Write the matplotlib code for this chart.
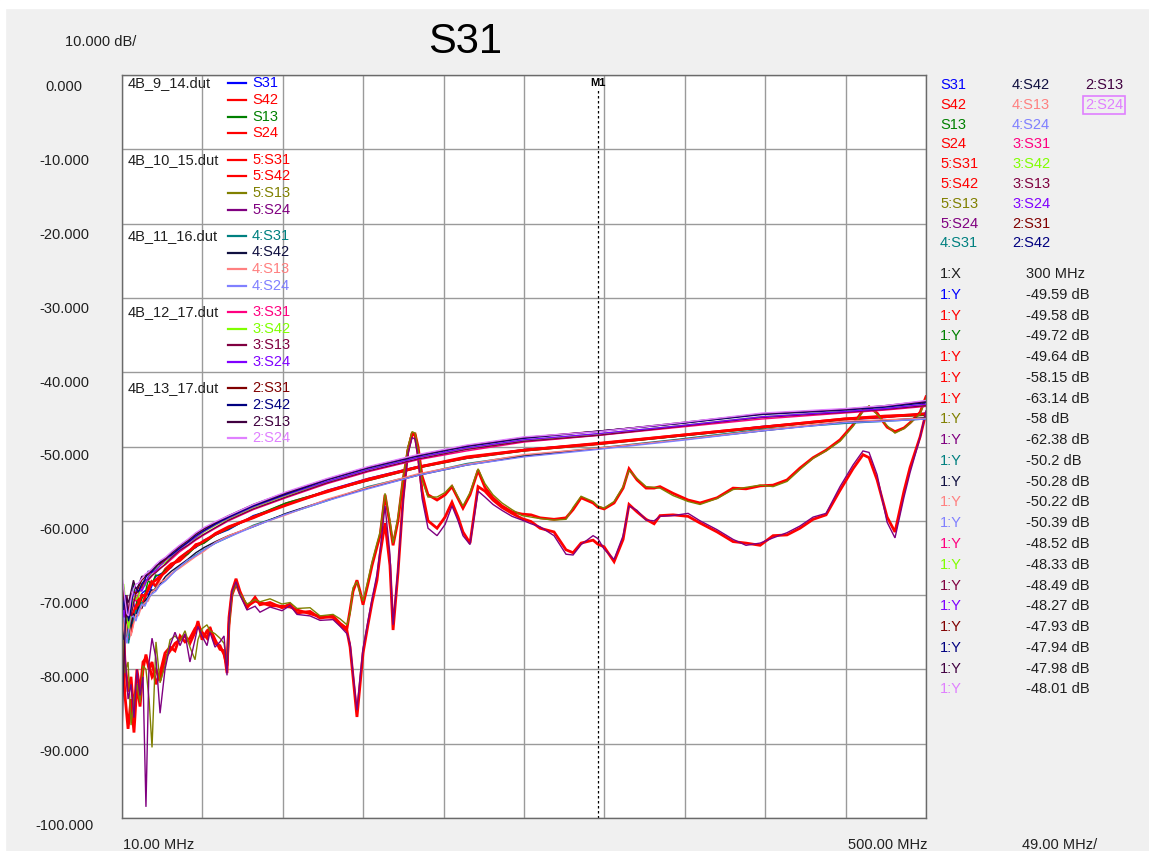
import matplotlib.pyplot as plt
import matplotlib.lines as mlines
import matplotlib.patches as mpatches
import numpy as np

plt.rcParams['font.family'] = ['Liberation Sans', 'DejaVu Sans']

W, H = 1149, 851


def fx(x):
    return x / W


def fy(y):
    return 1 - y / H


# ---- measurement data (frequency in MHz, magnitude in dB) ----
F_START, F_STOP, F_DIV = 10.0, 500.0, 49.0
MARKER_FREQ = 300.0

F_SMOOTH = [10, 11, 12, 13, 14, 15.5, 17, 18.5, 20, 22,
            24, 26, 28, 30.5, 33, 36.5, 40, 45, 50, 55,
            60, 67, 75, 90, 110, 135, 160, 190, 220, 255,
            300, 350, 400, 450, 475, 500]

# 4B_9_14.dut
S31 = [-70.5, -73.0, -74.8, -72.0, -73.2, -70.5, -71.0, -72.5, -71.8, -69.8,
       -69.4, -70.0, -68.9, -67.5, -67.2, -66.8, -66.3, -65.0, -64.1, -63.6,
       -62.6, -61.9, -61.2, -59.3, -57.9, -55.9, -54.3, -52.7, -51.6, -50.4,
       -49.59, -48.6, -47.3, -46.4, -46.1, -45.5]
S42 = [-72.5, -70.5, -73.5, -75.0, -76.0, -73.0, -72.4, -71.5, -70.6, -71.5,
       -70.3, -69.0, -68.2, -68.8, -67.8, -66.5, -65.8, -65.4, -64.4, -63.2,
       -62.9, -61.7, -60.8, -59.6, -57.7, -56.1, -54.4, -52.8, -51.4, -50.5,
       -49.58, -48.5, -47.4, -46.3, -45.9, -45.7]
S13 = [-74.0, -69.0, -71.5, -74.5, -75.5, -72.0, -68.4, -70.5, -72.0, -70.5,
       -69.8, -68.0, -68.6, -67.3, -67.4, -66.6, -66.2, -65.0, -64.5, -63.5,
       -63.0, -61.9, -61.1, -59.4, -57.6, -56.0, -54.6, -52.9, -51.6, -50.6,
       -49.72, -48.6, -47.5, -46.4, -46.0, -45.8]
S24 = [-71.5, -74.0, -75.5, -73.2, -74.0, -75.0, -73.0, -71.8, -71.2, -70.0,
       -70.1, -69.3, -68.4, -68.0, -67.5, -66.9, -66.1, -65.0, -64.2, -63.4,
       -62.7, -61.8, -60.9, -59.5, -57.9, -56.0, -54.5, -52.8, -51.5, -50.5,
       -49.64, -48.5, -47.4, -46.3, -46.0, -45.6]

# 4B_11_16.dut
S31_4 = [-71.0, -72.5, -74.0, -75.5, -76.5, -74.0, -73.5, -72.0, -72.4, -71.0,
         -71.2, -70.5, -69.8, -69.0, -68.4, -68.0, -67.2, -66.2, -65.4, -64.6,
         -63.9, -63.0, -62.2, -60.6, -59.1, -57.3, -55.4, -53.8, -52.3, -51.2,
         -50.2, -49.0, -47.7, -46.9, -46.6, -46.3]
S42_4 = [-74.5, -76.0, -72.0, -73.5, -75.0, -74.2, -72.5, -73.0, -71.6, -71.8,
         -70.8, -70.2, -69.3, -69.4, -68.6, -67.5, -66.8, -66.0, -65.2, -64.3,
         -63.6, -62.8, -62.0, -60.8, -59.0, -57.2, -55.6, -53.9, -52.5, -51.3,
         -50.28, -49.1, -47.9, -46.7, -46.5, -46.1]
S13_4 = [-72.0, -74.5, -76.0, -74.0, -73.5, -75.5, -74.0, -72.6, -72.8, -71.5,
         -71.0, -70.8, -69.6, -69.2, -68.3, -67.9, -67.1, -66.4, -65.6, -64.8,
         -64.1, -62.9, -62.0, -60.7, -59.2, -57.1, -55.5, -53.7, -52.4, -51.1,
         -50.22, -49.1, -47.8, -46.6, -46.4, -46.2]
S24_4 = [-73.5, -71.5, -75.5, -76.5, -74.5, -73.0, -72.8, -73.5, -72.2, -71.2,
         -71.5, -70.4, -69.9, -69.5, -68.7, -68.1, -67.3, -66.2, -65.3, -64.7,
         -63.9, -63.0, -62.2, -60.8, -59.1, -57.3, -55.7, -53.9, -52.5, -51.4,
         -50.39, -49.2, -47.9, -46.8, -46.6, -46.3]

# 4B_12_17.dut
S31_3 = [-69.0, -70.5, -72.5, -71.0, -73.8, -71.5, -70.5, -70.8, -69.8, -69.2,
         -68.3, -68.0, -67.5, -66.8, -66.4, -65.9, -65.2, -64.2, -63.4, -62.6,
         -61.9, -61.0, -60.0, -58.5, -56.9, -55.0, -53.4, -51.8, -50.6, -49.4,
         -48.52, -47.4, -46.3, -45.5, -45.1, -44.6]
S42_3 = [-71.0, -68.5, -70.5, -73.0, -74.5, -72.0, -69.8, -70.6, -70.2, -68.5,
         -68.8, -67.6, -67.1, -66.5, -66.0, -65.6, -64.8, -63.9, -63.0, -62.3,
         -61.5, -60.6, -59.7, -58.2, -56.6, -54.8, -53.1, -51.5, -50.3, -49.2,
         -48.33, -47.2, -46.0, -45.3, -44.9, -44.4]
S13_3 = [-68.5, -71.5, -73.0, -70.0, -72.0, -72.8, -71.2, -69.8, -69.5, -68.9,
         -68.0, -67.9, -67.4, -67.0, -66.5, -65.8, -65.0, -64.0, -63.3, -62.5,
         -61.8, -60.9, -59.9, -58.4, -56.8, -54.9, -53.3, -51.7, -50.4, -49.3,
         -48.49, -47.3, -46.1, -45.4, -45.0, -44.5]
S24_3 = [-70.0, -73.0, -71.8, -72.2, -73.0, -70.8, -70.0, -69.4, -68.9, -69.5,
         -68.6, -67.5, -67.0, -66.7, -66.1, -65.3, -64.7, -63.8, -63.0, -62.2,
         -61.4, -60.5, -59.6, -58.1, -56.5, -54.7, -53.1, -51.5, -50.2, -49.1,
         -48.27, -47.2, -46.0, -45.3, -44.9, -44.3]

# 4B_13_17.dut
S31_2 = [-68.0, -70.0, -71.5, -73.0, -72.5, -70.0, -69.5, -69.8, -69.0, -68.0,
         -67.6, -67.2, -66.8, -66.0, -65.8, -65.2, -64.4, -63.5, -62.7, -61.8,
         -61.1, -60.3, -59.4, -57.9, -56.3, -54.4, -52.8, -51.2, -49.9, -48.8,
         -47.93, -46.9, -45.6, -45.0, -44.6, -44.0]
S42_2 = [-69.5, -72.0, -70.0, -71.5, -73.5, -71.8, -68.8, -69.0, -69.6, -68.5,
         -67.9, -66.8, -66.9, -66.3, -65.6, -65.0, -64.6, -63.7, -62.9, -62.0,
         -61.3, -60.4, -59.5, -58.0, -56.4, -54.5, -52.9, -51.3, -50.0, -48.9,
         -47.94, -46.9, -45.7, -45.1, -44.7, -44.1]
S13_2 = [-89.0, -80.0, -74.0, -70.5, -71.0, -69.5, -68.0, -69.2, -68.7, -67.5,
         -67.4, -67.0, -66.6, -66.2, -65.7, -65.0, -64.3, -63.4, -62.6, -61.7,
         -61.0, -60.2, -59.3, -57.8, -56.2, -54.4, -52.8, -51.2, -49.9, -48.8,
         -47.98, -46.8, -45.6, -45.0, -44.5, -43.9]
S24_2 = [-67.5, -69.0, -71.0, -72.5, -72.8, -70.5, -69.2, -68.5, -68.4, -67.8,
         -67.2, -66.9, -66.5, -65.9, -65.4, -64.9, -64.2, -63.3, -62.5, -61.6,
         -60.9, -60.1, -59.3, -57.8, -56.1, -54.3, -52.7, -51.1, -49.8, -48.7,
         -48.01, -46.8, -45.5, -44.9, -44.5, -43.8]

# 4B_10_15.dut (resonant fixture), finer frequency grid
F_RES = [10.0, 11.8, 13.7, 15.5, 17.3, 19.1, 21.0, 22.8, 24.6, 26.5,
         28.3, 30.7, 33.2, 36.2, 39.3, 42.3, 45.4, 48.4, 51.4, 54.5,
         56.3, 58.8, 61.8, 63.6, 66.7, 69.7, 72.2, 74.0, 75.2, 77.0,
         79.5, 81.9, 86.2, 91.1, 94.1, 100.2, 107.5, 112.4, 116.7, 124.6,
         130.7, 138.6, 142.9, 147.1, 149.0, 150.8, 153.2, 155.1, 156.9, 159.9,
         162.4, 165.4, 167.3, 170.3, 173.3, 175.2, 178.2, 181.3, 184.3, 186.8,
         188.6, 190.4, 192.9, 196.5, 202.0, 206.9, 211.1, 214.8, 217.8, 222.1,
         227.0, 231.2, 236.1, 241.6, 247.7, 253.8, 259.3, 264.8, 273.3, 280.6,
         284.9, 289.8, 297.1, 300.0, 303.8, 309.9, 315.4, 319.0, 323.9, 329.4,
         334.3, 337.9, 345.8, 355.0, 362.3, 372.7, 382.4, 390.3, 398.9, 406.8,
         415.3, 423.2, 431.2, 439.1, 447.6, 455.5, 461.6, 465.3, 470.2, 476.3,
         481.1, 486.6, 490.3, 496.4, 500.0]

S31_5 = [-70.0, -79.0, -83.0, -81.0, -86.0, -80.0, -83.0, -79.0, -78.5, -79.5,
         -81.0, -80.0, -81.5, -78.5, -77.5, -76.5, -76.0, -75.5, -76.5, -75.0,
         -73.5, -76.0, -74.8, -74.5, -76.0, -77.3, -77.5, -80.5, -73.0, -69.5,
         -67.8, -69.5, -71.7, -70.3, -71.3, -71.0, -71.7, -71.2, -72.4, -72.2,
         -73.1, -72.8, -73.8, -74.5, -72.0, -69.5, -68.0, -69.5, -71.3, -68.5,
         -66.0, -63.5, -62.0, -56.5, -60.5, -63.3, -60.0, -54.5, -50.5, -48.3,
         -48.3, -50.0, -54.0, -56.5, -57.2, -56.5, -55.4, -57.0, -58.3, -56.5,
         -53.2, -55.5, -56.9, -58.0, -58.8, -59.1, -59.2, -59.6, -59.8, -59.6,
         -58.5, -56.9, -57.6, -58.15, -58.4, -57.6, -55.6, -53.0, -54.5, -55.6,
         -55.6, -55.4, -56.3, -57.2, -57.6, -56.9, -55.6, -55.7, -55.3, -55.2,
         -54.5, -52.9, -51.5, -50.5, -49.1, -47.1, -45.1, -44.7, -45.5, -47.4,
         -48.0, -47.5, -46.8, -45.4, -43.3]
S13_5 = [-72.0, -80.5, -79.0, -87.5, -84.0, -82.0, -84.5, -79.5, -80.0, -84.0,
         -90.5, -76.3, -81.8, -79.5, -76.0, -75.5, -76.2, -74.8, -77.0, -78.7,
         -76.0, -74.5, -74.0, -74.8, -75.2, -75.8, -76.5, -79.5, -74.5, -70.0,
         -68.5, -69.8, -71.2, -70.6, -70.9, -70.5, -71.2, -71.0, -71.8, -71.7,
         -72.8, -72.6, -73.2, -74.0, -72.5, -69.0, -68.2, -69.8, -70.8, -68.0,
         -65.5, -63.0, -61.5, -56.3, -60.0, -63.0, -59.5, -54.2, -50.0, -48.0,
         -48.2, -50.3, -54.5, -56.8, -56.8, -56.2, -55.2, -56.8, -58.0, -56.2,
         -53.0, -55.0, -56.5, -57.6, -58.5, -59.3, -59.5, -59.7, -59.9, -59.8,
         -58.2, -56.7, -57.4, -58.0, -58.3, -57.4, -55.4, -53.2, -54.3, -55.4,
         -55.5, -55.6, -56.6, -57.4, -57.8, -57.0, -55.8, -55.5, -55.2, -55.4,
         -54.7, -53.1, -51.6, -50.6, -49.3, -47.3, -45.3, -44.5, -45.7, -47.2,
         -48.2, -47.6, -46.9, -45.6, -43.6]
S42_5 = [-76.0, -83.5, -88.0, -84.0, -88.5, -82.0, -85.0, -80.0, -78.0, -80.0,
         -79.0, -82.0, -80.5, -77.8, -77.0, -77.5, -75.5, -76.3, -75.8, -74.5,
         -74.0, -75.0, -75.8, -74.3, -76.5, -76.8, -78.0, -79.5, -74.0, -70.0,
         -68.5, -69.8, -71.5, -70.8, -71.0, -71.4, -71.5, -71.6, -72.0, -72.5,
         -72.9, -73.0, -74.0, -74.8, -77.0, -81.0, -86.4, -82.0, -77.8, -74.0,
         -71.0, -68.0, -64.5, -60.3, -66.0, -74.7, -67.0, -57.0, -50.5, -48.3,
         -48.5, -51.0, -56.0, -60.0, -61.0, -59.5, -57.5, -59.5, -61.5, -63.0,
         -55.4, -56.0, -57.2, -58.2, -59.0, -59.7, -60.1, -61.0, -61.5, -63.9,
         -64.3, -63.0, -62.6, -63.14, -63.5, -65.5, -62.5, -57.8, -58.8, -59.8,
         -60.4, -59.3, -59.2, -59.4, -60.3, -61.5, -62.8, -63.0, -63.3, -62.0,
         -61.9, -61.0, -59.8, -59.2, -55.9, -53.0, -51.1, -51.5, -54.5, -59.5,
         -61.5, -56.0, -52.8, -48.7, -45.5]
S24_5 = [-68.0, -78.0, -84.0, -82.0, -86.5, -80.0, -83.5, -81.0, -98.5, -79.0,
         -75.8, -78.5, -85.9, -80.0, -76.8, -75.0, -76.8, -75.2, -79.0, -76.0,
         -74.2, -75.5, -76.8, -75.0, -77.0, -76.3, -75.5, -80.8, -73.5, -69.5,
         -68.2, -70.0, -72.0, -71.5, -72.3, -71.6, -72.1, -71.4, -72.6, -72.8,
         -73.4, -73.3, -74.2, -75.2, -76.5, -80.5, -85.5, -81.0, -77.2, -73.5,
         -70.5, -67.2, -64.0, -58.0, -64.5, -74.0, -66.5, -57.5, -51.0, -48.8,
         -49.0, -51.5, -57.0, -61.0, -62.0, -60.5, -58.0, -60.0, -62.0, -63.2,
         -56.0, -56.8, -57.8, -58.6, -59.4, -59.9, -60.4, -60.8, -62.0, -64.5,
         -64.6, -63.2, -62.0, -62.38, -63.8, -65.2, -62.0, -58.0, -58.6, -59.9,
         -60.0, -59.4, -59.3, -59.0, -60.0, -61.2, -62.5, -63.3, -63.0, -62.3,
         -61.6, -60.7, -59.5, -59.0, -55.4, -52.5, -50.6, -50.8, -53.8, -60.2,
         -62.3, -56.8, -53.5, -48.8, -45.2]

FILES = ['4B_9_14.dut', '4B_10_15.dut', '4B_11_16.dut', '4B_12_17.dut', '4B_13_17.dut']

# (label, colour, frequencies, values), in file order
TRACES = [
    ('S31', '#0000ff', F_SMOOTH, S31),
    ('S42', '#ff0000', F_SMOOTH, S42),
    ('S13', '#008000', F_SMOOTH, S13),
    ('S24', '#ff0000', F_SMOOTH, S24),
    ('5:S31', '#ff0000', F_RES, S31_5),
    ('5:S42', '#ff0000', F_RES, S42_5),
    ('5:S13', '#808000', F_RES, S13_5),
    ('5:S24', '#800080', F_RES, S24_5),
    ('4:S31', '#008080', F_SMOOTH, S31_4),
    ('4:S42', '#101040', F_SMOOTH, S42_4),
    ('4:S13', '#ff8080', F_SMOOTH, S13_4),
    ('4:S24', '#8080ff', F_SMOOTH, S24_4),
    ('3:S31', '#ff0080', F_SMOOTH, S31_3),
    ('3:S42', '#80ff00', F_SMOOTH, S42_3),
    ('3:S13', '#800040', F_SMOOTH, S13_3),
    ('3:S24', '#8000ff', F_SMOOTH, S24_3),
    ('2:S31', '#800000', F_SMOOTH, S31_2),
    ('2:S42', '#000080', F_SMOOTH, S42_2),
    ('2:S13', '#400040', F_SMOOTH, S13_2),
    ('2:S24', '#e080ff', F_SMOOTH, S24_2),
]

TEXT = '#202020'
FS = 10.5

fig = plt.figure(figsize=(W / 100, H / 100), dpi=100, facecolor='#f0f0f0')
# thin white frame along the top and left edge of the window
fig.add_artist(mpatches.Rectangle((0, fy(8)), 1, 8 / H, transform=fig.transFigure,
                                  color='white', zorder=-1))
fig.add_artist(mpatches.Rectangle((0, 0), fx(5), 1, transform=fig.transFigure,
                                  color='white', zorder=-1))

ax = fig.add_axes([fx(122), fy(818), (926 - 122) / W, (818 - 75) / H])
ax.set_facecolor('white')
ax.set_xlim(F_START, F_STOP)
ax.set_ylim(-100, 0)
ax.set_xticks(np.arange(F_START, F_STOP + 1, F_DIV))
ax.set_yticks(np.arange(-100, 1, 10))
ax.tick_params(length=0, labelbottom=False, labelleft=False)
ax.grid(True, color='#9a9a9a', lw=1.0)
ax.set_axisbelow(True)
for sp in ax.spines.values():
    sp.set_color('#6a6a6a')
    sp.set_linewidth(1.0)

for name, color, f, v in TRACES:
    lw = 2.0 if color == '#ff0000' else 1.0
    ax.plot(f, v, color=color, lw=lw, solid_joinstyle='miter')

# marker M1
ax.axvline(MARKER_FREQ, ymax=(818 - 88) / 743, color='black', lw=0.9, ls=(0, (2, 2)))
ax.annotate('M1', xy=(MARKER_FREQ, 1.0), xycoords=('data', 'axes fraction'),
            xytext=(0, -7.5), textcoords='offset pixels', ha='center', va='center',
            fontsize=8, fontweight='bold', color='black')

# y labels, header, title
for k in range(11):
    fig.text(fx(64), fy(87 + 73.9 * k), f'{-10 * k:.3f}', ha='center', va='center',
             fontsize=FS, color=TEXT)
fig.text(fx(65), fy(42), '10.000 dB/', ha='left', va='center', fontsize=FS, color=TEXT)
fig.text(fx(465), fy(42), 'S31', ha='center', va='center', fontsize=30, color='black')

# x labels
fig.text(fx(123), fy(845), f'{F_START:.2f} MHz', ha='left', va='center', fontsize=FS, color=TEXT)
fig.text(fx(927), fy(845), f'{F_STOP:.2f} MHz', ha='right', va='center', fontsize=FS, color=TEXT)
fig.text(fx(1022), fy(845), f'{F_DIV:.2f} MHz/', ha='left', va='center', fontsize=FS, color=TEXT)

# legend inside the plot, one block per file
for g, fname in enumerate(FILES):
    y0 = 83.3 + 76.25 * g
    fig.text(fx(128), fy(y0), fname, ha='left', va='center', fontsize=FS, color=TEXT)
    for r in range(4):
        name, color, f, v = TRACES[4 * g + r]
        yy = y0 + 16.7 * r
        fig.add_artist(mlines.Line2D([fx(228), fx(246)], [fy(yy), fy(yy)],
                                     color=color, lw=1.6, transform=fig.transFigure))
        fig.text(fx(252), fy(yy), name, ha='left', va='center', fontsize=FS, color=color)

# trace list on the right
cols_x = [940, 1012, 1085]
for i, (name, color, f, v) in enumerate(TRACES):
    c, r = divmod(i, 9)
    t = fig.text(fx(cols_x[c]), fy(85 + 19.8 * r), name, ha='left', va='center',
                 fontsize=FS, color=color)
    if i == len(TRACES) - 1:
        t.set_bbox(dict(boxstyle='square,pad=0.12', facecolor='none', edgecolor=color, lw=1.2))

# marker readout
row_h = 20.77
fig.text(fx(940), fy(274), '1:X', ha='left', va='center', fontsize=FS, color=TEXT)
fig.text(fx(1026), fy(274), f'{MARKER_FREQ:.0f} MHz', ha='left', va='center', fontsize=FS, color=TEXT)
for i, (name, color, f, v) in enumerate(TRACES):
    yy = 274 + row_h * (i + 1)
    val = np.interp(MARKER_FREQ, f, v)
    txt = f'{val:.2f}'.rstrip('0').rstrip('.') + ' dB'
    fig.text(fx(940), fy(yy), '1:Y', ha='left', va='center', fontsize=FS, color=color)
    fig.text(fx(1026), fy(yy), txt, ha='left', va='center', fontsize=FS, color=TEXT)

fig.savefig('out.png', dpi=100, facecolor=fig.get_facecolor())
